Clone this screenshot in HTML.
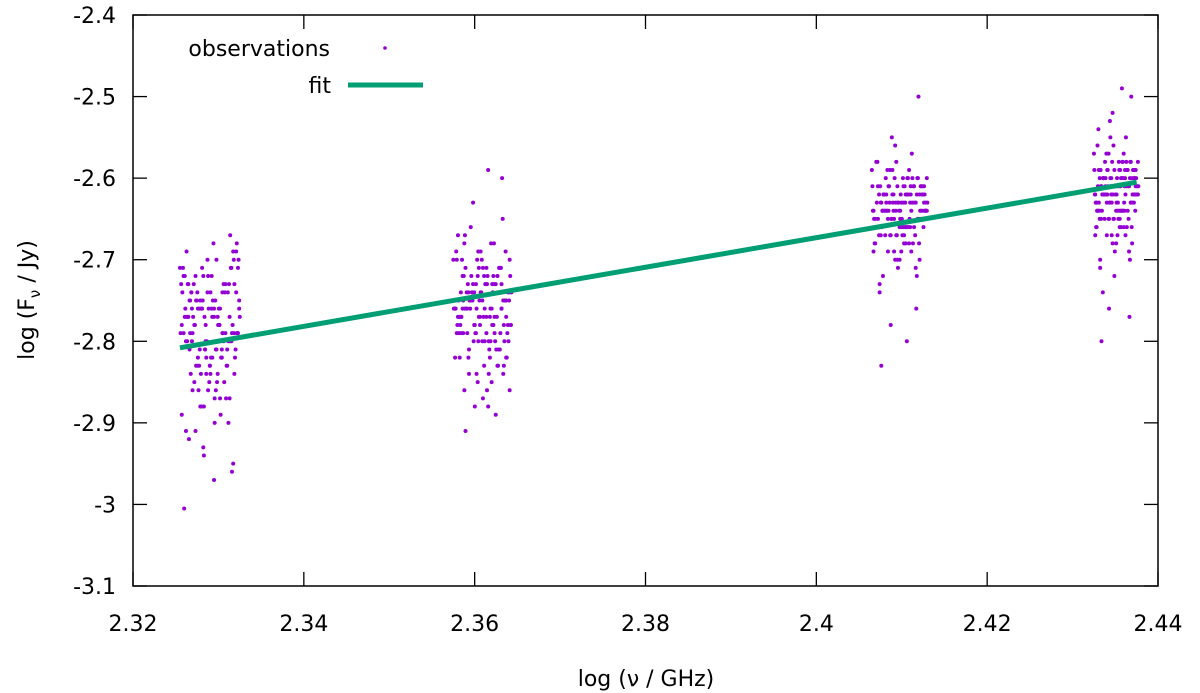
<!DOCTYPE html>
<html><head><meta charset="utf-8">
<style>
html,body{margin:0;padding:0;background:#fff;}
svg{display:block;font-family:"DejaVu Sans","Liberation Sans",sans-serif;}
</style></head>
<body>
<svg id="chart" width="1200" height="693" viewBox="0 0 1200 693" xmlns="http://www.w3.org/2000/svg">
<g id="axes"></g>
<g id="points"></g>
<g id="fitg"></g>
<g id="legend">
  <text x="330" y="56" text-anchor="end" font-size="22">observations</text>
  <circle cx="385" cy="48" r="1.8" fill="#9400d3"/>
  <text x="331" y="93" text-anchor="end" font-size="22">fit</text>
  <line x1="348" y1="85" x2="423" y2="85" stroke="#009e73" stroke-width="5"/>
</g>
<text x="646" y="686" text-anchor="middle" font-size="22">log (ν / GHz)</text>
<text transform="translate(34,300) rotate(-90)" text-anchor="middle" font-size="22">log (F<tspan font-size="15" dy="6">ν</tspan><tspan dy="-6"> / Jy)</tspan></text>
</svg>
<script>
const xTicks=[2.32,2.34,2.36,2.38,2.4,2.42,2.44];
const xTickLabels=["2.32","2.34","2.36","2.38","2.4","2.42","2.44"];
const yTicks=[-3.1,-3,-2.9,-2.8,-2.7,-2.6,-2.5,-2.4];
const yTickLabels=["-3.1","-3","-2.9","-2.8","-2.7","-2.6","-2.5","-2.4"];
const clusterBaseX=[2.3255,2.3575,2.4065,2.4325];
const clusterWidthX=[0.0070,0.0068,0.0065,0.0052];
const pointOffsetA=[0.03,0.59,0.93,0.26,0.74,0.41,0.11,0.86,0.50,0.19,0.67,0.34,0.97,0.01,0.54,0.81,0.23,0.63,0.44,0.90,0.09,0.71,0.31,0.51,0.16,0.84,0.39,0.64,0.99,0.20,0.47,0.77,0.29,0.57,0.06,0.89,0.37,0.69,0.13,0.80,0.49,0.24,0.94,0.60,0.36,0.03,0.73,0.43,0.91,0.17,0.66,0.53,0.10,0.83,0.30,0.61,0.96,0.21,0.46,0.79,0.07,0.56,0.87,0.33,0.70,0.14,0.40,0.76,0.27,0.63,1.00,0.50,0.00,0.83,0.37,0.67,0.19,0.91,0.44,0.57];
const pointOffsetB=[0.48,0.12,0.82,0.35,0.66,0.05,0.92,0.28,0.58,0.17,0.75,0.42,0.98,0.22,0.62,0.08,0.87,0.32,0.53,0.15,0.71,0.45,0.95,0.25,0.60,0.02,0.79,0.38,0.68,0.11,0.85,0.52,0.30,0.72,0.18,0.94,0.40,0.64,0.06,0.81,0.55,0.27,0.89,0.14,0.47,0.76,0.33,0.99,0.21,0.58,0.04,0.70,0.43,0.86,0.24,0.65,0.10,0.91,0.36,0.54,0.16,0.78,0.46,0.97,0.29,0.61,0.08,0.83,0.39,0.73,0.20,0.51,0.88,0.13,0.69,0.34,0.96,0.26,0.57,0.42];
const cluster1Y=[-2.78,-2.75,-2.81,-2.72,-2.85,-2.77,-2.69,-2.80,-2.83,-2.74,-2.76,-2.88,-2.71,-2.79,-2.82,-2.90,-2.73,-2.77,-2.84,-2.70,-2.76,-2.79,-2.86,-2.74,-2.81,-2.67,-2.93,-2.78,-2.75,-2.80,-2.72,-2.87,-2.83,-2.76,-2.79,-2.95,-2.71,-2.82,-2.77,-2.74,-2.85,-2.78,-2.69,-2.81,-2.76,-2.89,-2.73,-2.80,-2.84,-2.75,-2.78,-2.72,-2.91,-2.77,-2.82,-2.70,-2.79,-2.86,-2.74,-2.83,-3.005,-2.68,-2.96,-2.76,-2.81,-2.73,-2.88,-2.79,-2.75,-2.84,-2.77,-2.83,-2.71,-2.80,-2.76,-2.87,-2.74,-2.79,-2.82,-2.97];
const cluster1YB=[-2.76,-2.80,-2.73,-2.84,-2.78,-2.71,-2.82,-2.75,-2.87,-2.79,-2.74,-2.81,-2.70,-2.77,-2.85,-2.72,-2.79,-2.83,-2.76,-2.92,-2.74,-2.80,-2.68,-2.78,-2.86,-2.73,-2.81,-2.75,-2.89,-2.77,-2.71,-2.82,-2.76,-2.79,-2.84,-2.74,-2.94,-2.78,-2.72,-2.80,-2.75,-2.83,-2.69,-2.77,-2.86,-2.73,-2.81,-2.76,-2.79,-2.90,-2.74,-2.82,-2.78,-2.71,-2.85,-2.76,-2.80,-2.73,-2.88,-2.77,-2.75,-2.83,-2.70,-2.79,-2.74,-2.81,-2.77,-2.87,-2.72,-2.80,-2.76,-2.84,-2.78,-2.73,-2.82,-2.75,-2.79,-2.91,-2.77,-2.81];
const cluster2Y=[-2.76,-2.72,-2.79,-2.74,-2.81,-2.70,-2.77,-2.84,-2.75,-2.68,-2.78,-2.73,-2.86,-2.76,-2.80,-2.71,-2.74,-2.82,-2.77,-2.69,-2.75,-2.79,-2.72,-2.87,-2.76,-2.60,-2.73,-2.80,-2.78,-2.67,-2.74,-2.83,-2.76,-2.71,-2.79,-2.75,-2.88,-2.72,-2.77,-2.81,-2.70,-2.76,-2.74,-2.59,-2.78,-2.82,-2.73,-2.69,-2.77,-2.75,-2.85,-2.72,-2.79,-2.76,-2.66,-2.80,-2.74,-2.91,-2.77,-2.71,-2.78,-2.73,-2.83,-2.75,-2.68,-2.79,-2.76,-2.72,-2.84,-2.77,-2.74,-2.80,-2.70,-2.76,-2.78,-2.73,-2.86,-2.75,-2.71,-2.79];
const cluster2YB=[-2.74,-2.78,-2.71,-2.80,-2.76,-2.69,-2.82,-2.75,-2.73,-2.79,-2.77,-2.85,-2.72,-2.76,-2.81,-2.67,-2.78,-2.74,-2.83,-2.70,-2.77,-2.75,-2.80,-2.73,-2.88,-2.76,-2.71,-2.79,-2.74,-2.82,-2.65,-2.77,-2.75,-2.80,-2.72,-2.78,-2.84,-2.76,-2.70,-2.79,-2.73,-2.81,-2.75,-2.77,-2.69,-2.83,-2.74,-2.78,-2.71,-2.86,-2.76,-2.73,-2.80,-2.75,-2.79,-2.68,-2.77,-2.82,-2.74,-2.76,-2.72,-2.81,-2.78,-2.70,-2.75,-2.84,-2.77,-2.73,-2.79,-2.89,-2.76,-2.71,-2.80,-2.74,-2.78,-2.63,-2.75,-2.82,-2.77,-2.72];
const cluster3Y=[-2.64,-2.61,-2.66,-2.63,-2.68,-2.60,-2.65,-2.62,-2.70,-2.64,-2.59,-2.67,-2.63,-2.61,-2.66,-2.72,-2.64,-2.62,-2.58,-2.65,-2.63,-2.69,-2.61,-2.64,-2.67,-2.50,-2.62,-2.66,-2.60,-2.64,-2.71,-2.63,-2.65,-2.61,-2.68,-2.64,-2.59,-2.66,-2.62,-2.76,-2.64,-2.67,-2.61,-2.63,-2.65,-2.69,-2.60,-2.64,-2.62,-2.83,-2.66,-2.63,-2.58,-2.65,-2.61,-2.68,-2.64,-2.62,-2.70,-2.63,-2.66,-2.60,-2.64,-2.67,-2.62,-2.73,-2.65,-2.61,-2.64,-2.80,-2.63,-2.66,-2.59,-2.65,-2.62,-2.68,-2.64,-2.61,-2.67,-2.63];
const cluster3YB=[-2.63,-2.66,-2.60,-2.65,-2.62,-2.68,-2.64,-2.59,-2.67,-2.63,-2.61,-2.70,-2.64,-2.62,-2.66,-2.58,-2.65,-2.63,-2.69,-2.61,-2.64,-2.67,-2.62,-2.60,-2.66,-2.64,-2.71,-2.63,-2.65,-2.61,-2.68,-2.62,-2.64,-2.57,-2.66,-2.63,-2.69,-2.60,-2.65,-2.62,-2.67,-2.64,-2.61,-2.74,-2.63,-2.66,-2.59,-2.64,-2.62,-2.68,-2.65,-2.61,-2.63,-2.70,-2.64,-2.60,-2.66,-2.62,-2.55,-2.65,-2.63,-2.67,-2.61,-2.64,-2.69,-2.62,-2.66,-2.60,-2.64,-2.63,-2.72,-2.65,-2.61,-2.67,-2.63,-2.78,-2.64,-2.62,-2.66,-2.56];
const cluster4Y=[-2.62,-2.59,-2.64,-2.61,-2.66,-2.58,-2.63,-2.60,-2.68,-2.62,-2.57,-2.65,-2.61,-2.59,-2.64,-2.70,-2.62,-2.60,-2.56,-2.63,-2.61,-2.67,-2.59,-2.62,-2.65,-2.50,-2.60,-2.64,-2.58,-2.62,-2.69,-2.61,-2.63,-2.59,-2.66,-2.62,-2.55,-2.64,-2.60,-2.77,-2.62,-2.65,-2.59,-2.61,-2.63,-2.67,-2.58,-2.62,-2.60,-2.80,-2.64,-2.61,-2.54,-2.63,-2.59,-2.66,-2.62,-2.60,-2.72,-2.61,-2.64,-2.58,-2.62,-2.65,-2.60,-2.71,-2.63,-2.59,-2.62,-2.49,-2.61,-2.64,-2.57,-2.63,-2.60,-2.66,-2.62,-2.59,-2.65,-2.61];
const cluster4YB=[-2.61,-2.64,-2.58,-2.63,-2.60,-2.66,-2.62,-2.57,-2.65,-2.61,-2.59,-2.68,-2.62,-2.60,-2.64,-2.56,-2.63,-2.61,-2.67,-2.59,-2.62,-2.65,-2.60,-2.58,-2.64,-2.62,-2.69,-2.61,-2.63,-2.59,-2.66,-2.60,-2.62,-2.55,-2.64,-2.61,-2.67,-2.58,-2.63,-2.60,-2.65,-2.62,-2.59,-2.70,-2.61,-2.64,-2.57,-2.62,-2.60,-2.66,-2.63,-2.59,-2.61,-2.68,-2.62,-2.58,-2.64,-2.60,-2.53,-2.63,-2.61,-2.65,-2.59,-2.62,-2.67,-2.60,-2.64,-2.58,-2.62,-2.61,-2.74,-2.63,-2.59,-2.65,-2.61,-2.76,-2.62,-2.60,-2.64,-2.52];
const fitX=[2.3255,2.4375];
const fitY=[-2.808,-2.605];

const NS="http://www.w3.org/2000/svg";
const L=133,R=1158,T=15,B=586;
function sx(v){return L+(v-2.32)/(0.12)*(R-L);}
function sy(v){return T+(-2.4-v)/0.7*(B-T);}
function mk(tag,attrs,parent){const e=document.createElementNS(NS,tag);for(const k in attrs)e.setAttribute(k,attrs[k]);parent.appendChild(e);return e;}
const axes=document.getElementById('axes');
const frame=mk('rect',{x:L,y:T,width:R-L,height:B-T,fill:'none',stroke:'#000','stroke-width':1.5},axes);


xTicks.forEach((v,i)=>{
  const x=sx(v);
  const t1=mk('line',{x1:x,y1:B,x2:x,y2:B-14,stroke:'#000','stroke-width':1.3},axes);
  
  
  const t2=mk('line',{x1:x,y1:T,x2:x,y2:T+14,stroke:'#000','stroke-width':1.3},axes);
  
  
  const lb=mk('text',{x:x,y:B+45,'text-anchor':'middle','font-size':22},axes);
  lb.textContent=xTickLabels[i];
  
  
});
yTicks.forEach((v,i)=>{
  const y=sy(v);
  const t1=mk('line',{x1:L,y1:y,x2:L+14,y2:y,stroke:'#000','stroke-width':1.3},axes);
  
  
  const t2=mk('line',{x1:R,y1:y,x2:R-14,y2:y,stroke:'#000','stroke-width':1.3},axes);
  
  
  const lb=mk('text',{x:116,y:y+8,'text-anchor':'end','font-size':22},axes);
  lb.textContent=yTickLabels[i];
  
  
});
const pts=document.getElementById('points');
const clustersA=[cluster1Y,cluster2Y,cluster3Y,cluster4Y];
const clustersB=[cluster1YB,cluster2YB,cluster3YB,cluster4YB];
function drawSet(sets,offs){
  sets.forEach((ys,ci)=>{
    ys.forEach((yv,j)=>{
      const xv=clusterBaseX[ci]+offs[j%offs.length]*clusterWidthX[ci];
      const c=mk('circle',{cx:sx(xv),cy:sy(yv),r:2,fill:'#9400d3'},pts);
      
      
    });
  });
}
drawSet(clustersA,pointOffsetA);
drawSet(clustersB,pointOffsetB);
const fl=mk('line',{x1:sx(fitX[0]),y1:sy(fitY[0]),x2:sx(fitX[1]),y2:sy(fitY[1]),stroke:'#009e73','stroke-width':5},document.getElementById('fitg'));


</script>
</body></html>
